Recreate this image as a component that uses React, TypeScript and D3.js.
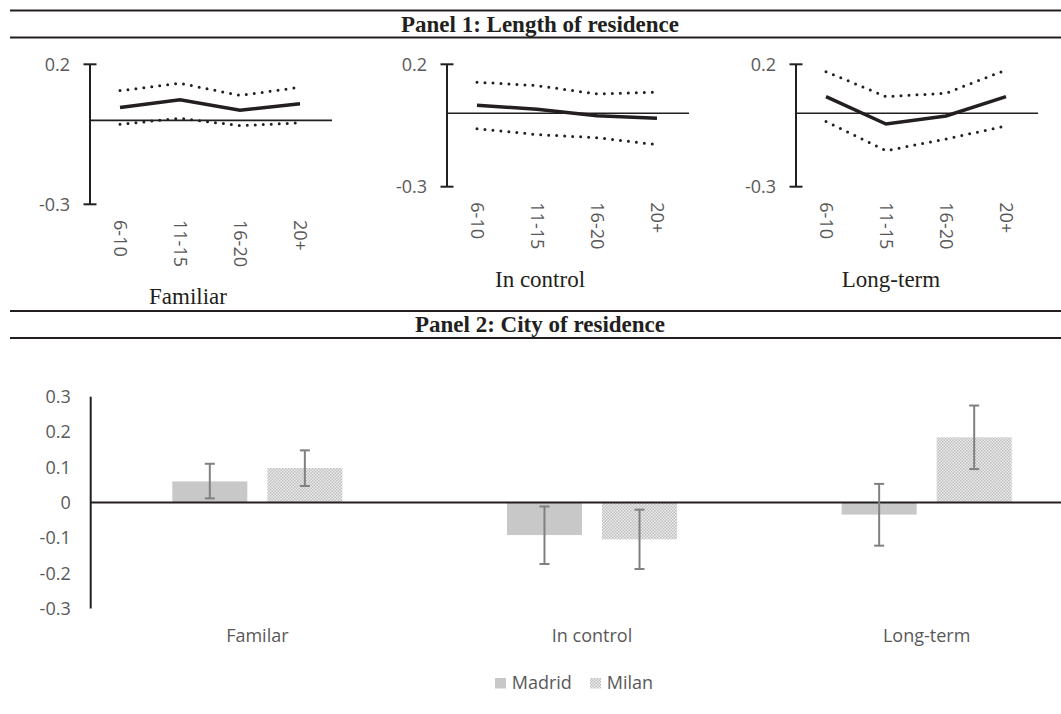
import React from 'react';
import * as d3 from 'd3';

// ---------- Data ----------
const periods = ['6-10', '11-15', '16-20', '20+'];

const familiarEst = [0.046, 0.073, 0.036, 0.059];
const familiarUpper = [0.106, 0.132, 0.089, 0.118];
const familiarLower = [-0.014, 0.007, -0.019, -0.009];

const controlEst = [0.033, 0.016, -0.01, -0.02];
const controlUpper = [0.127, 0.113, 0.079, 0.086];
const controlLower = [-0.063, -0.087, -0.1, -0.128];

const longEst = [0.068, -0.044, -0.011, 0.068];
const longUpper = [0.17, 0.068, 0.082, 0.177];
const longLower = [-0.034, -0.153, -0.105, -0.052];

const panel1Ticks = [0.2, -0.3];
const panel1Names = ['Familiar', 'In control', 'Long-term'];

const outcomes = ['Familar', 'In control', 'Long-term'];
const cities = ['Madrid', 'Milan'];
const madridVals = [0.06, -0.092, -0.034];
const madridHi = [0.11, -0.011, 0.053];
const madridLo = [0.012, -0.174, -0.122];
const milanVals = [0.098, -0.104, 0.185];
const milanHi = [0.148, -0.02, 0.275];
const milanLo = [0.047, -0.188, 0.095];
const panel2Ticks = [0.3, 0.2, 0.1, 0, -0.1, -0.2, -0.3];

const title1 = 'Panel 1: Length of residence';
const title2 = 'Panel 2: City of residence';

// ---------- Styling / layout ----------
const INK = '#231f20';
const GRAY_TXT = '#595959';
const SANS = "'Open Sans', 'Noto Sans', sans-serif";
const SERIF = "'Liberation Serif', 'Times New Roman', serif";

const fmt = (t: number) => (t === 0 ? '0' : d3.format('.1f')(t).replace('\u2212', '-'));

function SansText(props: any) {
  const { x, y, anchor = 'start', size = 18, rotate = 0, dy, children, fill = GRAY_TXT } = props;
  return (
    <text
      transform={`translate(${x},${y})${rotate ? ` rotate(${rotate})` : ''}`}
      textAnchor={anchor}
      fontFamily={SANS}
      fontSize={size}
      fill={fill}
      dy={dy}
    >
      {children}
    </text>
  );
}

const subplots = [
  { est: familiarEst, up: familiarUpper, lo: familiarLower, axisX: 90, yTop: 64.3, yBot: 204.3, titleX: 188, titleY: 304, labelY: 220 },
  { est: controlEst, up: controlUpper, lo: controlLower, axisX: 447, yTop: 64.3, yBot: 186.7, titleX: 540, titleY: 286.7, labelY: 202.3 },
  { est: longEst, up: longUpper, lo: longLower, axisX: 796, yTop: 64.3, yBot: 186.7, titleX: 891, titleY: 286.7, labelY: 202.3 },
];

function LineSubplot({ cfg, name }: any) {
  const x = d3.scalePoint<string>().domain(periods).range([cfg.axisX, cfg.axisX + 240]).padding(0.5);
  const y = d3.scaleLinear().domain([-0.3, 0.2]).range([cfg.yBot, cfg.yTop]);
  const line = d3
    .line<number>()
    .x((_, i) => x(periods[i]) as number)
    .y((d) => y(d));
  return (
    <g>
      <line x1={cfg.axisX} x2={cfg.axisX + 242} y1={y(0)} y2={y(0)} stroke={INK} strokeWidth={1.7} />
      <line x1={cfg.axisX} x2={cfg.axisX} y1={y(0.2)} y2={y(-0.3)} stroke={INK} strokeWidth={2} />
      {panel1Ticks.map((t) => (
        <g key={t}>
          <line x1={cfg.axisX - 6.5} x2={cfg.axisX + 6.5} y1={y(t)} y2={y(t)} stroke={INK} strokeWidth={2} />
          <SansText x={cfg.axisX - 20} y={y(t)} anchor="end" dy="0.36em">
            {fmt(t)}
          </SansText>
        </g>
      ))}
      <path d={line(cfg.up) as string} fill="none" stroke={INK} strokeWidth={3} strokeDasharray="0 8" strokeLinecap="round" />
      <path d={line(cfg.lo) as string} fill="none" stroke={INK} strokeWidth={3} strokeDasharray="0 8" strokeLinecap="round" />
      <path d={line(cfg.est) as string} fill="none" stroke={INK} strokeWidth={3.5} />
      {periods.map((p) => (
        <SansText key={p} x={x(p)} y={cfg.labelY} rotate={90} dy="0.36em">
          {p}
        </SansText>
      ))}
      <text x={cfg.titleX} y={cfg.titleY} textAnchor="middle" fontFamily={SERIF} fontSize={23} fill={INK}>
        {name}
      </text>
    </g>
  );
}

function BarPanel() {
  const x0 = d3.scaleBand<string>().domain(outcomes).range([90, 90 + 1004]);
  const x1 = d3
    .scaleBand<string>()
    .domain(cities)
    .range([0, x0.bandwidth()])
    .paddingInner(20 / 95)
    .paddingOuter(0.866);
  const y = d3.scaleLinear().domain([-0.3, 0.3]).range([608.5, 396.7]);
  const series = [
    { city: 'Madrid', vals: madridVals, hi: madridHi, lo: madridLo, fill: '#c8c8c8' },
    { city: 'Milan', vals: milanVals, hi: milanHi, lo: milanLo, fill: 'url(#milanPat)' },
  ];
  const bw = x1.bandwidth();
  return (
    <g>
      {series.map((s) =>
        outcomes.map((o, i) => {
          const bx = (x0(o) as number) + (x1(s.city) as number);
          const v = s.vals[i];
          return (
            <rect
              key={s.city + o}
              x={bx}
              y={Math.min(y(v), y(0))}
              width={bw}
              height={Math.abs(y(v) - y(0))}
              fill={s.fill}
            />
          );
        })
      )}
      <line x1={90} x2={1061} y1={y(0)} y2={y(0)} stroke={INK} strokeWidth={2} />
      <line x1={90.7} x2={90.7} y1={y(0.3)} y2={y(-0.3)} stroke={INK} strokeWidth={2} />
      {series.map((s) =>
        outcomes.map((o, i) => {
          const cx = (x0(o) as number) + (x1(s.city) as number) + bw / 2;
          return (
            <g key={'e' + s.city + o} stroke="#808080" strokeWidth={2}>
              <line x1={cx} x2={cx} y1={y(s.hi[i])} y2={y(s.lo[i])} />
              <line x1={cx - 5} x2={cx + 5} y1={y(s.hi[i])} y2={y(s.hi[i])} />
              <line x1={cx - 5} x2={cx + 5} y1={y(s.lo[i])} y2={y(s.lo[i])} />
            </g>
          );
        })
      )}
      {panel2Ticks.map((t) => (
        <SansText key={t} x={70.7} y={y(t)} anchor="end" dy="0.36em">
          {fmt(t)}
        </SansText>
      ))}
      {outcomes.map((o) => (
        <SansText key={o} x={(x0(o) as number) + x0.bandwidth() / 2} y={641.7} anchor="middle">
          {o}
        </SansText>
      ))}
      <rect x={495} y={678} width={11} height={10.5} fill="#c8c8c8" />
      <SansText x={511.7} y={688.7}>{cities[0]}</SansText>
      <rect x={590} y={678} width={11} height={10.5} fill="url(#milanPat)" />
      <SansText x={606.7} y={688.7}>{cities[1]}</SansText>
    </g>
  );
}

export default function App() {
  return (
    <svg width={1061} height={714} style={{ position: 'absolute', left: 0, top: 0, background: '#fff' }}>
      <defs>
        <pattern id="milanPat" width={3} height={3} patternUnits="userSpaceOnUse">
          <rect width={3} height={3} fill="#eeeeee" />
          <rect x={0} y={0} width={1.5} height={1.5} fill="#bdbdbd" />
          <rect x={1.5} y={1.5} width={1.5} height={1.5} fill="#bdbdbd" />
        </pattern>
      </defs>
      <rect width={1061} height={714} fill="#fff" />
      <g stroke={INK} strokeWidth={2}>
        <line x1={10} x2={1061} y1={10.5} y2={10.5} />
        <line x1={10} x2={1061} y1={37.5} y2={37.5} />
        <line x1={10} x2={1061} y1={311} y2={311} />
        <line x1={10} x2={1061} y1={338} y2={338} />
      </g>
      <text x={540} y={32} textAnchor="middle" fontFamily={SERIF} fontWeight="bold" fontSize={23} fill={INK}>
        {title1}
      </text>
      <text x={540} y={331.5} textAnchor="middle" fontFamily={SERIF} fontWeight="bold" fontSize={23} fill={INK}>
        {title2}
      </text>
      {subplots.map((cfg, i) => (
        <LineSubplot key={i} cfg={cfg} name={panel1Names[i]} />
      ))}
      <BarPanel />
    </svg>
  );
}
